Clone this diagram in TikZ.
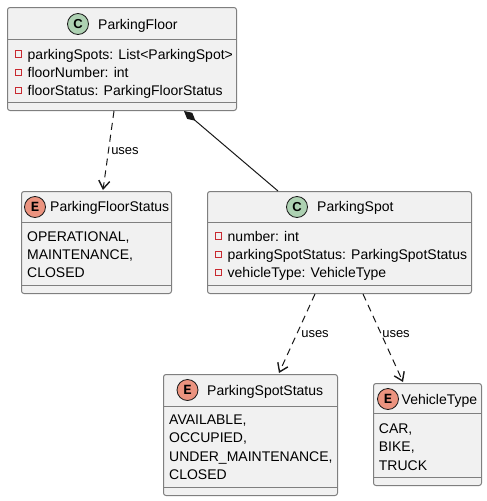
\documentclass[tikz,border=0pt]{standalone}
\usepackage{fontspec}
\setmainfont{Liberation Sans}
\newfontfamily\iconmono{Liberation Mono}
\usetikzlibrary{arrows.meta}
\definecolor{boxbg}{HTML}{F1F1F1}
\definecolor{bord}{HTML}{7F7F7F}
\definecolor{linec}{HTML}{181818}
\definecolor{cgreen}{HTML}{ADD1B2}
\definecolor{ered}{HTML}{EB937F}
\definecolor{privred}{HTML}{C82930}
\tikzset{
  box/.style={draw=bord, fill=boxbg, rounded corners=2.5pt, line width=1pt, inner sep=0pt, anchor=north west},
  sepline/.style={draw=bord, line width=1pt},
  txt/.style={anchor=base west, inner sep=0pt, font=\fontsize{14}{16}\selectfont},
  lbl/.style={inner sep=0pt, font=\fontsize{13}{15}\selectfont},
  cicon/.style={circle, draw=linec, line width=0.8pt, fill=cgreen, minimum size=21pt, inner sep=0pt, font=\fontsize{13}{15}\selectfont\bfseries},
  eicon/.style={circle, draw=linec, line width=0.8pt, fill=ered, minimum size=21pt, inner sep=0pt, font=\fontsize{14}{15}\selectfont\iconmono\bfseries},
  priv/.style={draw=privred, line width=1pt, minimum size=6.5pt, inner sep=0pt},
  dep/.style={draw=linec, line width=1pt, dash pattern=on 7pt off 5pt, -{Straight Barb[length=8pt,width=11pt,line width=1.4pt]}},
  comp/.style={draw=linec, line width=1pt, -{Diamond[length=15pt,width=8pt]}},
}
\begin{document}
\begin{tikzpicture}[x=1pt,y=-1pt]
\useasboundingbox (0,0) rectangle (487,501);
% ParkingFloor
\node[box, minimum width=229pt, minimum height=103pt] (pf) at (7,7) {};
\draw[sepline] (7,39) -- (236,39);
\draw[sepline] (7,102) -- (236,102);
\node[cicon] (pfi) at (78,24) {C};
\node[txt] (pft) at (98,29.5) {ParkingFloor};
\node[priv] (pfp1) at (18.5,54) {};
\node[txt] (pfa1) at (27.5,59) {parkingSpots: List<ParkingSpot>};
\node[priv] (pfp2) at (18.5,72.3) {};
\node[txt] (pfa2) at (27.5,77.3) {floorNumber: int};
\node[priv] (pfp3) at (18.5,90.5) {};
\node[txt] (pfa3) at (27.5,95.5) {floorStatus: ParkingFloorStatus};
% ParkingFloorStatus
\node[box, minimum width=150pt, minimum height=102pt] (pfs) at (21,191) {};
\draw[sepline] (21,222) -- (171,222);
\draw[sepline] (21,285) -- (171,285);
\node[eicon] (pfsi) at (35,207) {E};
\node[txt] (pfst) at (50,211.7) {ParkingFloorStatus};
\node[txt] (pfsa1) at (27,241) {OPERATIONAL,};
\node[txt] (pfsa2) at (27,259.3) {MAINTENANCE,};
\node[txt] (pfsa3) at (27,277.5) {CLOSED};
% ParkingSpot
\node[box, minimum width=264pt, minimum height=102pt] (ps) at (207,191) {};
\draw[sepline] (207,222) -- (471,222);
\draw[sepline] (207,285) -- (471,285);
\node[cicon] (psi) at (297,207) {C};
\node[txt] (pst) at (317,211.7) {ParkingSpot};
\node[priv] (psp1) at (218.5,236) {};
\node[txt] (psa1) at (227.5,241) {number: int};
\node[priv] (psp2) at (218.5,254.3) {};
\node[txt] (psa2) at (227.5,259.3) {parkingSpotStatus: ParkingSpotStatus};
\node[priv] (psp3) at (218.5,272.5) {};
\node[txt] (psa3) at (227.5,277.5) {vehicleType: VehicleType};
% ParkingSpotStatus
\node[box, minimum width=174pt, minimum height=121pt] (pss) at (163,374) {};
\draw[sepline] (163,406) -- (337,406);
\draw[sepline] (163,487) -- (337,487);
\node[eicon] (pssi) at (187.5,390) {E};
\node[txt] (psst) at (207,395) {ParkingSpotStatus};
\node[txt] (pssa1) at (169,424) {AVAILABLE,};
\node[txt] (pssa2) at (169,442.5) {OCCUPIED,};
\node[txt] (pssa3) at (169,461) {UNDER\_MAINTENANCE,};
\node[txt] (pssa4) at (169,479.3) {CLOSED};
% VehicleType
\node[box, minimum width=108pt, minimum height=102pt] (vt) at (373,383) {};
\draw[sepline] (373,413) -- (481,413);
\draw[sepline] (373,477) -- (481,477);
\node[eicon] (vti) at (388,399) {E};
\node[txt] (vtt) at (401.5,404.3) {VehicleType};
\node[txt] (vta1) at (378.7,433.3) {CAR,};
\node[txt] (vta2) at (378.7,451.7) {BIKE,};
\node[txt] (vta3) at (378.7,470) {TRUCK};
% connectors
\draw[dep] ([xshift=107pt]pf.south west) -- ([xshift=82pt,yshift=1pt]pfs.north west);
\node[lbl] (l1) at (125,151) {uses};
\draw[comp] ([xshift=71pt]ps.north west) -- ([xshift=177pt]pf.south west);
\draw[dep] ([xshift=108pt]ps.south west) -- ([xshift=116pt,yshift=1pt]pss.north west);
\node[lbl] (l2) at (315,334) {uses};
\draw[dep] ([xshift=156pt]ps.south west) -- ([xshift=30pt,yshift=1pt]vt.north west);
\node[lbl] (l3) at (396,334) {uses};
\end{tikzpicture}
\end{document}
